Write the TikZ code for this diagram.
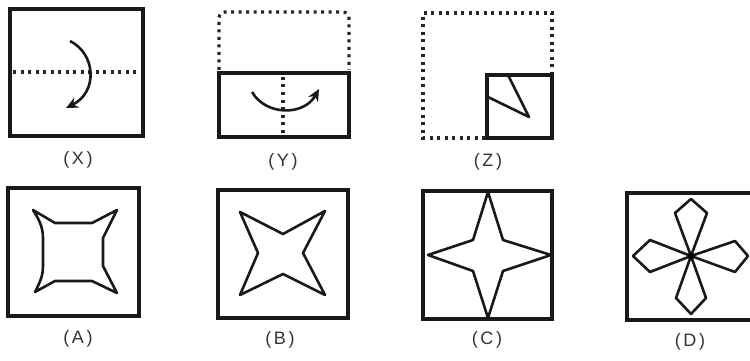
\documentclass[tikz,border=0pt]{standalone}
\usepackage{fontspec}
\setmainfont{Liberation Sans}[LetterSpace=14]
\usetikzlibrary{arrows.meta}
\begin{document}
\begin{tikzpicture}[x=1pt,y=-1pt,
  frame/.style={draw=black!90,line width=3.2pt},
  fig/.style={draw=black!90,line width=2.6pt,line join=round},
  dotline/.style={draw=black!85,line width=3.2pt,dash pattern=on 3pt off 4.5pt},
  lbl/.style={font=\fontsize{18}{18}\selectfont,text=black!80,inner sep=0pt},
  turn/.style={draw=black!90,line width=2.6pt,-{Stealth[length=12pt,width=11pt]}}]
\useasboundingbox (0,0) rectangle (750,361);
% ---------- X ----------
\draw[frame] (10,9) rectangle (143,136);
\draw[dotline] (13,72) -- (140,72);
\coordinate (xa) at (70,41);
\coordinate (xb) at (66,108);
\draw[turn] (xa) .. controls (96,54) and (98,92) .. (xb);
\node[lbl] (lx) at (78,160) {(X)};
% ---------- Y ----------
\draw[dotline,rounded corners=6pt] (219,70) -- (219,12) -- (349,12) -- (349,70);
\draw[frame] (219,73) rectangle (349,137);
\draw[dotline] (283,77) -- (283,135);
\coordinate (ya) at (252,92);
\coordinate (yb) at (319,89);
\draw[turn] (ya) .. controls (266,116) and (304,116) .. (yb);
\node[lbl] (ly) at (283,162) {(Y)};
% ---------- Z ----------
\draw[dotline] (485,138) -- (423,138) -- (423,13) -- (552,13) -- (552,73);
\draw[frame] (487,75) rectangle (552,138);
\draw[fig] (508,75) -- (529,117) -- (488,97);
\node[lbl] (lz) at (488,162) {(Z)};
% ---------- A ----------
\draw[frame] (8,188) rectangle (139,316);
\draw[fig] (33,210) -- (55,223) -- (92,223) -- (117,210) -- (103,238) -- (103,266)
  -- (117,293) -- (92,281) -- (55,281) -- (35,292)
  .. controls (40,282) and (43,276) .. (43,266) -- (43,238)
  .. controls (43,226) and (38,218) .. cycle;
\node[lbl] (la) at (78,339) {(A)};
% ---------- B ----------
\draw[frame] (218,190) rectangle (348,318);
\draw[fig] (240,212) -- (283,234) -- (325,211) -- (303,253) -- (325,295)
  -- (283,274) -- (240,295) -- (258,253) -- cycle;
\node[lbl] (lb) at (280,340) {(B)};
% ---------- C ----------
\draw[frame] (423,191) rectangle (552,319);
\draw[fig] (488,192) -- (473,240) -- (428,255) -- (473,271) -- (488,318)
  -- (503,271) -- (551,255) -- (503,240) -- cycle;
\node[lbl] (lc) at (487,340) {(C)};
% ---------- D ----------
\draw[frame] (760,193) -- (627,193) -- (627,320) -- (760,320);
\coordinate (dc) at (691,256);
\draw[fig] (dc) -- (675,213) -- (691,199) -- (707,213) -- cycle;
\draw[fig] (dc) -- (676,298) -- (691,314) -- (706,298) -- cycle;
\draw[fig] (dc) -- (650,240) -- (633,256) -- (650,272) -- cycle;
\draw[fig] (dc) -- (735,241) -- (748,256) -- (735,272) -- cycle;
\fill[black] (dc) circle (3.5pt);
\node[lbl] (ld) at (690,342) {(D)};
\end{tikzpicture}
\end{document}
